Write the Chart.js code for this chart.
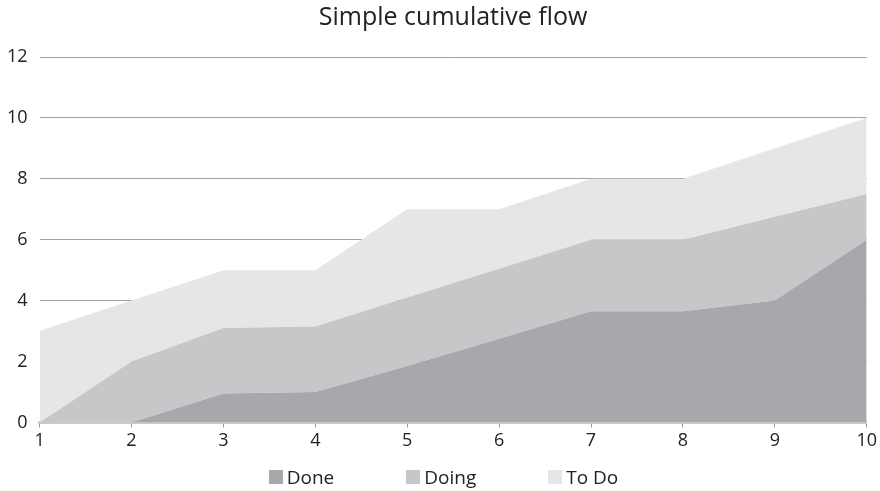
<!DOCTYPE html>
<html>
<head>
<meta charset="utf-8">
<script src="https://cdn.jsdelivr.net/npm/chart.js@4"></script>
<style>
  html, body { margin: 0; padding: 0; background: #fff; }
  #wrap { position: relative; width: 880px; height: 491px; }
  #legend {
    position: absolute; left: 0; width: 887px; top: 466px;
    display: flex; justify-content: center; gap: 72px;
    font-family: 'Open Sans', 'Noto Sans', sans-serif; font-size: 19px; color: #222;
    line-height: 22px;
  }
  #legend .item { display: flex; align-items: center; }
  #legend .box { width: 14px; height: 14px; margin-right: 4px; }
</style>
</head>
<body>
<div id="wrap"><canvas id="chart"></canvas><div id="legend"></div></div>
<script>
// values (stacked: Done at bottom)
const labels = ["1", "2", "3", "4", "5", "6", "7", "8", "9", "10"];
const done  = [0, 0, 0.95, 1, 1.85, 2.75, 3.65, 3.65, 4, 6];
const doing = [0, 2, 2.15, 2.15, 2.25, 2.3, 2.35, 2.35, 2.75, 1.5];
const toDo  = [3, 2, 1.9, 1.85, 2.9, 1.95, 2, 2, 2.25, 2.5];
const yTicks = [0, 2, 4, 6, 8, 10, 12];

const font = "'Open Sans', 'Noto Sans', sans-serif";

// center the title over the plot area instead of the whole canvas
const titleOverArea = {
  id: "titleOverArea",
  afterLayout(chart) {
    const t = chart.titleBlock, a = chart.chartArea;
    if (t && a) { t.left = a.left; t.right = a.right; t.width = a.right - a.left; }
  }
};

const chart = new Chart(document.getElementById("chart"), {
  type: "line",
  data: {
    labels: labels,
    datasets: [
      { label: "Done",  data: done,  fill: "origin", backgroundColor: "#a7a8ab", borderColor: "#a7a8ab", borderWidth: 0, pointRadius: 0, tension: 0 },
      { label: "Doing", data: doing, fill: "-1",     backgroundColor: "#c6c7c9", borderColor: "#c6c7c9", borderWidth: 0, pointRadius: 0, tension: 0 },
      { label: "To Do", data: toDo,  fill: "-1",     backgroundColor: "#e5e6e8", borderColor: "#e5e6e8", borderWidth: 0, pointRadius: 0, tension: 0 }
    ]
  },
  options: {
    responsive: true,
    maintainAspectRatio: false,
    animation: false,
    layout: { padding: { left: -5, right: 3, top: 3, bottom: 36 } },
    plugins: {
      title: {
        display: true,
        text: "Simple cumulative flow",
        color: "#222",
        font: { family: font, size: 25, weight: "normal" },
        padding: { top: 0, bottom: 24 }
      },
      legend: { display: false },
      tooltip: { enabled: false }
    },
    scales: {
      x: {
        offset: false,
        grid: { display: true, drawOnChartArea: false, drawTicks: true, tickLength: 5, color: "#999" },
        border: { display: true, color: "#cacaca", width: 3 },
        ticks: { color: "#222", font: { family: font, size: 18 }, padding: 3, maxRotation: 0 }
      },
      y: {
        stacked: true,
        min: 0,
        max: 12,
        afterBuildTicks: function (axis) { axis.ticks = yTicks.map(v => ({ value: v })); },
        grid: { color: "#a0a0a0", lineWidth: 1, drawTicks: false },
        border: { display: false },
        ticks: { color: "#222", font: { family: font, size: 18 }, padding: 12 }
      }
    }
  },
  plugins: [titleOverArea]
});

// legend built from the datasets
const legend = document.getElementById("legend");
chart.data.datasets.forEach(function (ds) {
  const item = document.createElement("div");
  item.className = "item";
  const box = document.createElement("span");
  box.className = "box";
  box.style.background = ds.backgroundColor;
  const txt = document.createElement("span");
  txt.textContent = ds.label;
  item.appendChild(box);
  item.appendChild(txt);
  legend.appendChild(item);
});
</script>
</body>
</html>
